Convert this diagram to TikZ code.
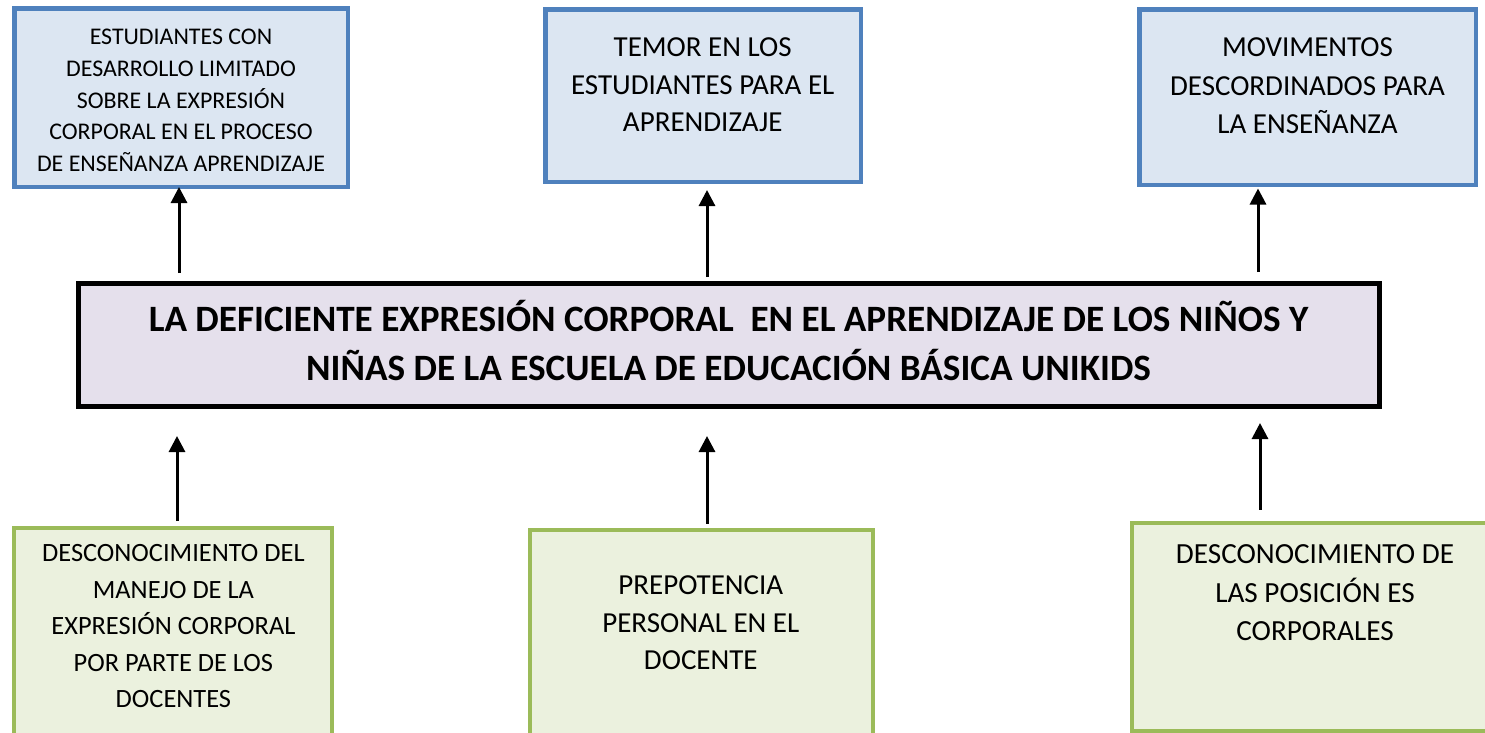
\documentclass[tikz,border=0pt]{standalone}
\usepackage{fontspec}
\setmainfont{Carlito}
\usetikzlibrary{arrows.meta}

\definecolor{effectline}{HTML}{4F81BD}
\definecolor{effectfill}{HTML}{DCE6F2}
\definecolor{problemfill}{HTML}{E5E0EC}
\definecolor{causeline}{HTML}{9BBB59}
\definecolor{causefill}{HTML}{EBF1DE}

\begin{document}
\begin{tikzpicture}[x=1pt,y=-1pt,>={Triangle[length=16pt,width=16pt]},
  effect node/.style={rectangle,draw=effectline,fill=effectfill,line width=4.5pt,inner sep=0pt},
  problem node/.style={rectangle,draw=black,fill=problemfill,line width=5pt,inner sep=0pt},
  cause node/.style={rectangle,draw=causeline,fill=causefill,line width=4pt,inner sep=0pt},
  box text/.style={align=center,inner sep=0pt},
  link/.style={->,line width=3pt}]

  \useasboundingbox (0,0) rectangle (1485,732);
  \clip (0,0) rectangle (1485,732);

  % effects
  \node[effect node,minimum width=333.5pt,minimum height=178.5pt] (e1) at (181,97.5) {};
  \node[effect node,minimum width=315.5pt,minimum height=172.5pt] (e2) at (703,95.5) {};
  \node[effect node,minimum width=336.5pt,minimum height=175.5pt] (e3) at (1307.5,97) {};

  % problem
  \node[problem node,minimum width=1301pt,minimum height=123pt] (p) at (729,345) {};

  % causes
  \node[cause node,minimum width=318pt,minimum height=250pt] (c1) at (173,653) {};
  \node[cause node,minimum width=343pt,minimum height=248pt] (c2) at (701.5,654) {};
  \node[cause node,minimum width=386pt,minimum height=208pt] (c3) at (1325,627) {};

  % texts
  \node[box text,font=\fontsize{23.9}{31.7}\selectfont] (e1t) at (181,100.4)
    {ESTUDIANTES CON\\DESARROLLO LIMITADO\\SOBRE LA EXPRESIÓN\\CORPORAL EN EL PROCESO\\DE ENSEÑANZA APRENDIZAJE};
  \node[box text,font=\fontsize{29}{37.5}\selectfont] (e2t) at (702.7,85)
    {TEMOR EN LOS\\ESTUDIANTES PARA EL\\APRENDIZAJE};
  \node[box text,font=\fontsize{29}{38.3}\selectfont] (e3t) at (1307.5,85.8)
    {MOVIMENTOS\\DESCORDINADOS PARA\\LA ENSEÑANZA};
  \node[box text,font=\fontsize{37.2}{49}\selectfont\bfseries] (pt) at (728.5,341)
    {LA DEFICIENTE EXPRESIÓN CORPORAL \ EN EL APRENDIZAJE DE LOS NIÑOS Y\\NIÑAS DE LA ESCUELA DE EDUCACIÓN BÁSICA UNIKIDS};
  \node[box text,font=\fontsize{26.4}{36.5}\selectfont] (c1t) at (173.4,626.3)
    {DESCONOCIMIENTO DEL\\MANEJO DE LA\\EXPRESIÓN CORPORAL\\POR PARTE DE LOS\\DOCENTES};
  \node[box text,font=\fontsize{29}{37.6}\selectfont] (c2t) at (700.8,623)
    {PREPOTENCIA\\PERSONAL EN EL\\DOCENTE};
  \node[box text,font=\fontsize{29.2}{38.6}\selectfont] (c3t) at (1315,593)
    {DESCONOCIMIENTO DE\\LAS POSICIÓN ES\\CORPORALES};

  % arrow columns
  \coordinate (a1) at (179,0);
  \coordinate (a2) at (707,0);
  \coordinate (a3) at (1258,0);
  \coordinate (b1) at (177,0);
  \coordinate (b2) at (707,0);
  \coordinate (b3) at (1260,0);

  \path[link]
    (p.north -| a1) edge [shorten <=8pt,shorten >=-2pt] (e1.south -| a1)
    (p.north -| a2) edge [shorten <=4pt,shorten >=6pt] (e2.south -| a2)
    (p.north -| a3) edge [shorten <=9pt,shorten >=1.5pt] (e3.south -| a3)
    (c1.north -| b1) edge [shorten <=5pt,shorten >=27pt] (p.south -| b1)
    (c2.north -| b2) edge [shorten <=4.5pt,shorten >=27pt] (p.south -| b2)
    (c3.north -| b3) edge [shorten <=11.5pt,shorten >=14pt] (p.south -| b3);
\end{tikzpicture}
\end{document}
